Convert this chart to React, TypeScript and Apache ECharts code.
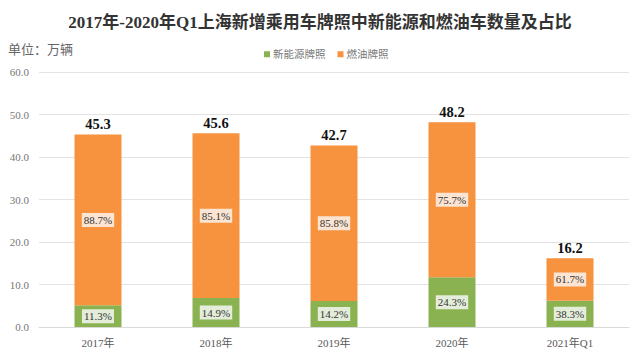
import React, { useEffect, useRef } from "react";
import * as echarts from "echarts";

const categories = ["2017年", "2018年", "2019年", "2020年", "2021年Q1"];
const totals = [45.3, 45.6, 42.7, 48.2, 16.2];
const nevPct = [11.3, 14.9, 14.2, 24.3, 38.3];
const fuelPct = [88.7, 85.1, 85.8, 75.7, 61.7];
const nevValues = [5.1, 6.8, 6.1, 11.7, 6.2];
const fuelValues = [40.2, 38.8, 36.6, 36.5, 10.0];
const yTicks = [0, 10, 20, 30, 40, 50, 60];

const SERIF = "'Liberation Serif', 'Times New Roman', 'Noto Sans CJK SC', serif";

export default function App() {
  const ref = useRef<HTMLDivElement>(null);
  useEffect(() => {
    if (!ref.current) return;
    const chart = echarts.init(ref.current, null, { renderer: "svg" });
    chart.setOption({
      animation: false,
      backgroundColor: "#ffffff",
      title: {
        text: "2017年-2020年Q1上海新增乘用车牌照中新能源和燃油车数量及占比",
        left: "center",
        top: 9,
        textStyle: { fontFamily: SERIF, fontSize: 17, fontWeight: "bold", color: "#333333" },
      },
      graphic: [
        {
          type: "text",
          left: 8,
          top: 43,
          style: { text: "单位：万辆", fontSize: 13, fill: "#666666", fontFamily: SERIF },
        },
      ],
      legend: {
        data: ["新能源牌照", "燃油牌照"],
        left: 259,
        top: 44,
        itemWidth: 6,
        itemHeight: 6,
        itemGap: 12,
        icon: "rect",
        textStyle: { fontSize: 10.5, color: "#777777", fontFamily: SERIF, padding: [0, 0, 0, -2] },
      },
      grid: { left: 39, right: 11, top: 72, bottom: 29 },
      xAxis: {
        type: "category",
        data: categories,
        axisTick: { show: false },
        axisLine: { lineStyle: { color: "#d9d9d9" } },
        axisLabel: { fontFamily: SERIF, fontSize: 11, color: "#595959", margin: 10 },
      },
      yAxis: {
        type: "value",
        min: yTicks[0],
        max: yTicks[yTicks.length - 1],
        interval: 10,
        axisLine: { show: false },
        axisTick: { show: false },
        splitLine: { lineStyle: { color: "#e3e3e3" } },
        axisLabel: {
          fontFamily: SERIF,
          fontSize: 11,
          color: "#777777",
          margin: 10,
          formatter: (v: number) => v.toFixed(1),
        },
      },
      series: [
        {
          name: "total",
          type: "bar",
          data: totals,
          barWidth: 47,
          barGap: "-100%",
          itemStyle: { color: "rgba(0,0,0,0)" },
          z: 1,
          silent: true,
          label: {
            show: true,
            position: "top",
            distance: 3,
            fontFamily: SERIF,
            fontSize: 14.5,
            fontWeight: "bold",
            color: "#111111",
            formatter: (p: any) => totals[p.dataIndex].toFixed(1),
          },
        },
        {
          name: "新能源牌照",
          type: "bar",
          stack: "s",
          data: nevValues,
          barWidth: 47,
          z: 3,
          itemStyle: { color: "#8BB250" },
          label: {
            show: true,
            position: "inside",
            fontFamily: SERIF,
            fontSize: 11,
            color: "#333333",
            backgroundColor: "#E4EDDA",
            padding: [2, 2, 1, 2],
            formatter: (p: any) => nevPct[p.dataIndex].toFixed(1) + "%",
          },
        },
        {
          name: "燃油牌照",
          type: "bar",
          stack: "s",
          data: fuelValues,
          barWidth: 47,
          z: 3,
          itemStyle: { color: "#F7923F" },
          label: {
            show: true,
            position: "inside",
            fontFamily: SERIF,
            fontSize: 11,
            color: "#333333",
            backgroundColor: "#FBE4D2",
            padding: [2, 2, 1, 2],
            formatter: (p: any) => fuelPct[p.dataIndex].toFixed(1) + "%",
          },
        },
      ],
    });
    return () => chart.dispose();
  }, []);
  return <div ref={ref} style={{ width: 640, height: 356, position: "absolute", left: 0, top: 0 }} />;
}
